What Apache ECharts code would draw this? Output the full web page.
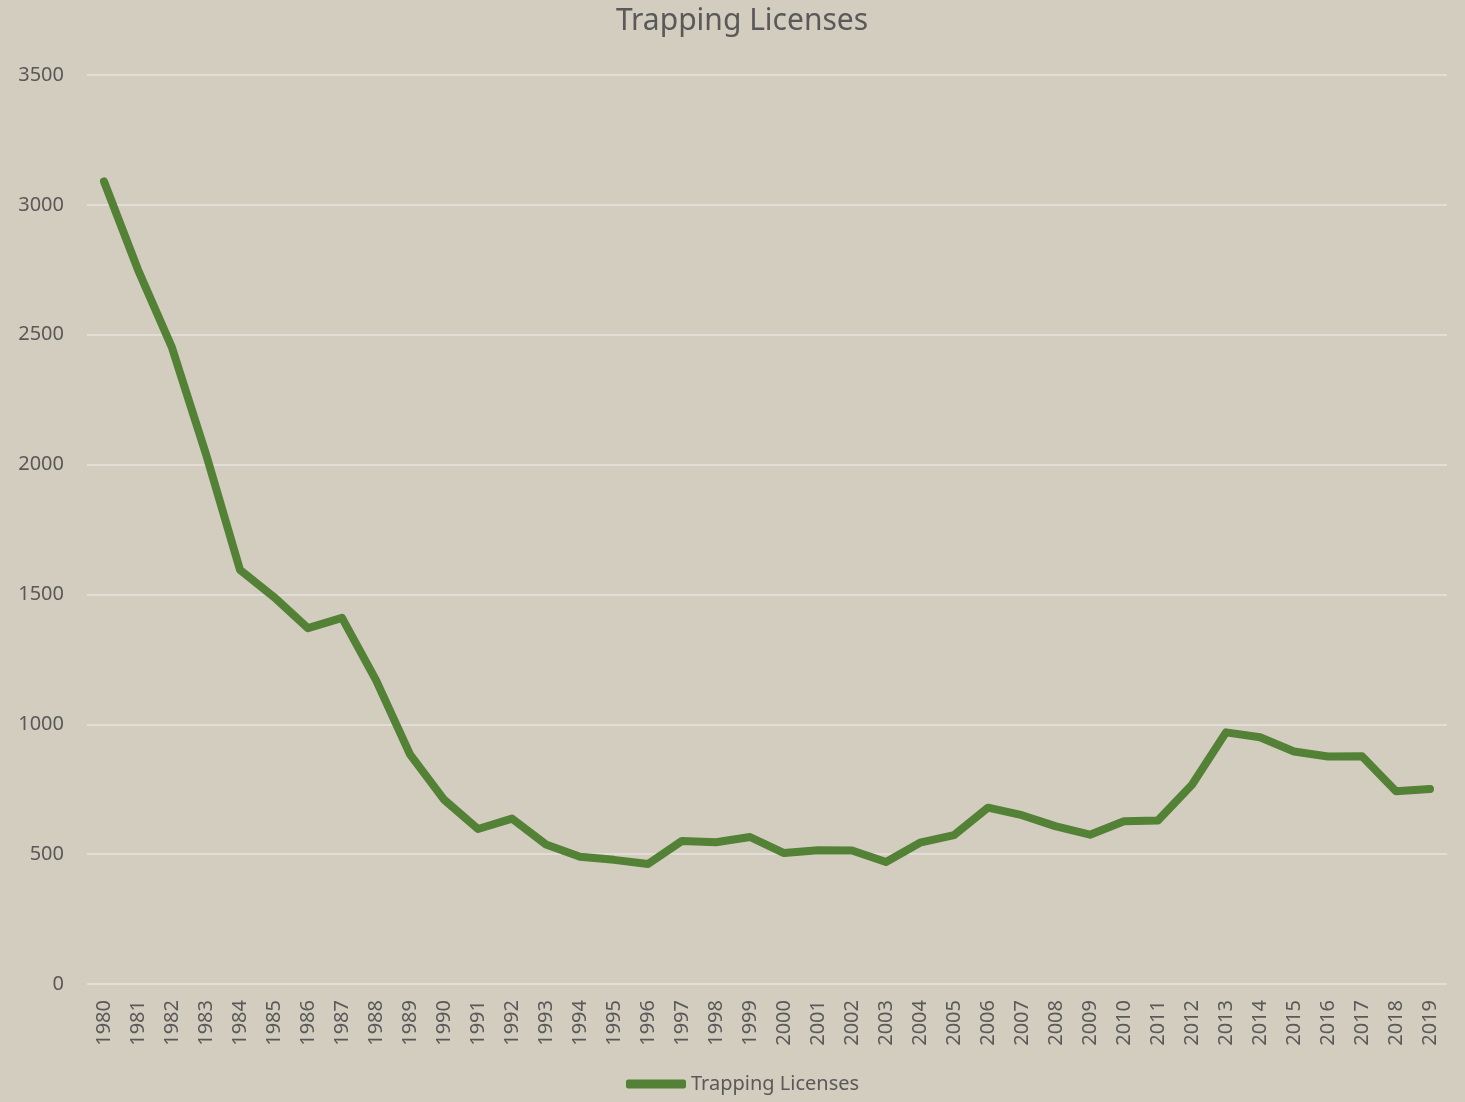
<!DOCTYPE html>
<html>
<head>
<meta charset="utf-8">
<title>Trapping Licenses</title>
<script src="https://cdn.jsdelivr.net/npm/echarts@6/dist/echarts.min.js"></script>
<style>
  html, body { margin: 0; padding: 0; background: #d3cdbf; }
  #chart { width: 1465px; height: 1102px; }
</style>
</head>
<body>
<div id="chart"></div>
<script>
const years = ['1980', '1981', '1982', '1983', '1984', '1985', '1986', '1987', '1988', '1989',
  '1990', '1991', '1992', '1993', '1994', '1995', '1996', '1997', '1998', '1999',
  '2000', '2001', '2002', '2003', '2004', '2005', '2006', '2007', '2008', '2009',
  '2010', '2011', '2012', '2013', '2014', '2015', '2016', '2017', '2018', '2019']

const licenses = [3090, 2750, 2450, 2040, 1595, 1490, 1370, 1410, 1170, 884,
  710, 597, 637, 537, 490, 478, 462, 551, 546, 566,
  504, 515, 514, 470, 544, 573, 679, 650, 607, 575,
  627, 630, 767, 969, 950, 895, 876, 877, 742, 751]

const TEXT = '#595959'
const FONT = 'Noto Sans'

const chart = echarts.init(document.getElementById('chart'))

chart.setOption({
  backgroundColor: '#d3cdbf',
  textStyle: { fontFamily: FONT, color: TEXT },
  title: {
    text: 'Trapping Licenses',
    left: 737,
    textAlign: 'center',
    top: 1,
    textStyle: { fontFamily: FONT, fontSize: 30, fontWeight: 'normal', color: TEXT }
  },
  legend: {
    bottom: 3,
    left: 621,
    icon: 'roundRect',
    itemWidth: 60,
    itemHeight: 9,
    itemGap: 4,
    textStyle: { fontFamily: FONT, fontSize: 20, color: TEXT },
    data: ['Trapping Licenses']
  },
  grid: { left: 87, right: 18, top: 75, bottom: 118 },
  xAxis: {
    type: 'category',
    data: years,
    boundaryGap: true,
    axisLine: { show: false },
    axisTick: { show: false },
    axisLabel: { rotate: 90, margin: 16, fontSize: 20, color: TEXT, fontFamily: FONT }
  },
  yAxis: {
    type: 'value',
    min: 0,
    max: 3500,
    interval: 500,
    axisLine: { show: false },
    axisTick: { show: false },
    axisLabel: { margin: 23, fontSize: 20, color: TEXT, fontFamily: FONT, formatter: v => String(v) },
    splitLine: { lineStyle: { color: '#e2ded6', width: 2 } }
  },
  series: [{
    name: 'Trapping Licenses',
    type: 'line',
    data: licenses,
    symbol: 'none',
    lineStyle: { color: '#538135', width: 8, cap: 'round', join: 'round' },
    itemStyle: { color: '#538135' }
  }]
})
</script>
</body>
</html>
